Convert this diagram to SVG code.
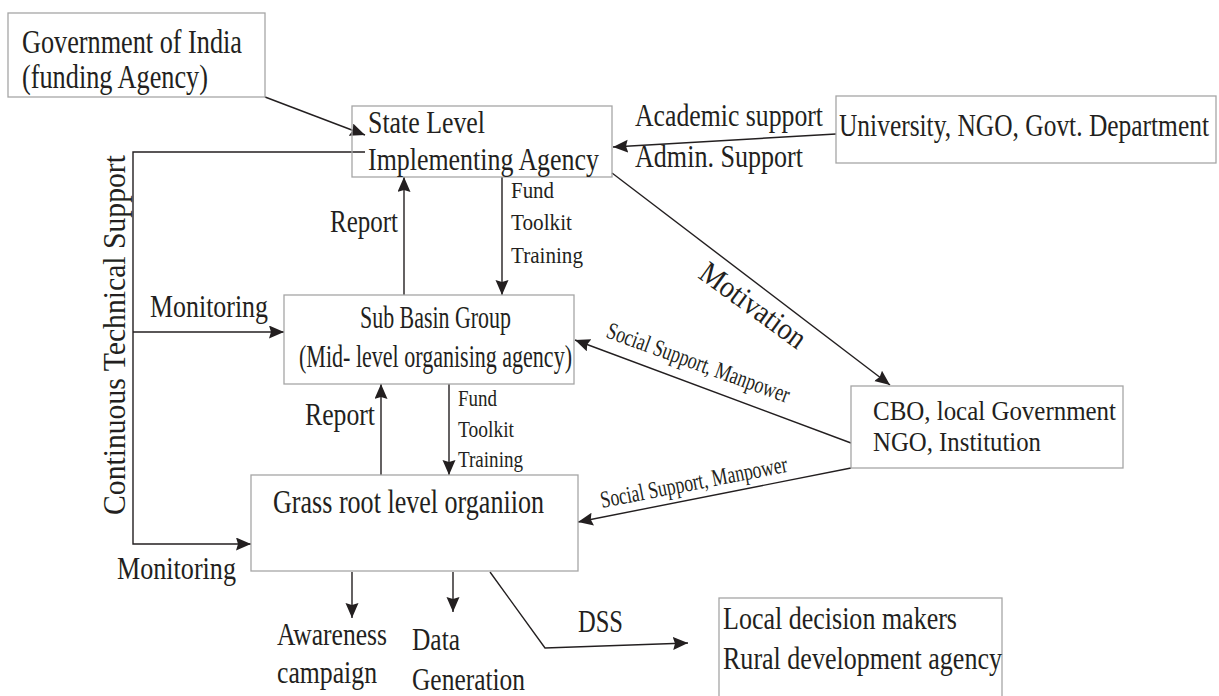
<svg xmlns="http://www.w3.org/2000/svg" width="1219" height="696" viewBox="0 0 1219 696">
<defs>
<style>
.box{fill:#fff;stroke:#a6a6a6;stroke-width:1.3}
.ln{fill:none;stroke:#231f20;stroke-width:1.4}
text{font-family:"Liberation Serif","Times New Roman",serif;fill:#231f20}
.t30{font-size:34px}
.t29{font-size:31px}
.t28{font-size:31px}
.t25{font-size:28px}
.t22{font-size:24px}
.t21{font-size:23px}
.t27{font-size:31px}
</style>
<marker id="ah" markerUnits="userSpaceOnUse" markerWidth="16" markerHeight="14" refX="15" refY="6.5" orient="auto">
<path d="M0,0 L15,6.5 L0,13 L2,6.5 z" fill="#231f20"/>
</marker>
</defs>
<rect width="1219" height="696" fill="#fff"/>

<g id="connectors">
<line class="ln" x1="265" y1="97" x2="365" y2="135" marker-end="url(#ah)"/>
<line class="ln" x1="836" y1="134" x2="613" y2="147" marker-end="url(#ah)"/>
<path class="ln" d="M365,152 H133 V544 H251" marker-end="url(#ah)"/>
<line class="ln" x1="133" y1="332" x2="284" y2="332" marker-end="url(#ah)"/>
<line class="ln" x1="404" y1="295" x2="404" y2="177" marker-end="url(#ah)"/>
<line class="ln" x1="502" y1="177" x2="502" y2="295" marker-end="url(#ah)"/>
<line class="ln" x1="381" y1="475" x2="381" y2="384" marker-end="url(#ah)"/>
<line class="ln" x1="449" y1="384" x2="449" y2="475" marker-end="url(#ah)"/>
<line class="ln" x1="612" y1="173" x2="890" y2="385" marker-end="url(#ah)"/>
<line class="ln" x1="851" y1="443" x2="575" y2="340" marker-end="url(#ah)"/>
<line class="ln" x1="851" y1="468" x2="578" y2="522" marker-end="url(#ah)"/>
<line class="ln" x1="352" y1="572" x2="352" y2="618" marker-end="url(#ah)"/>
<line class="ln" x1="453" y1="572" x2="453" y2="612" marker-end="url(#ah)"/>
<path class="ln" d="M490,572 L545,648 L688,643" marker-end="url(#ah)"/>
<text class="t29" transform="translate(125,515) rotate(-90)" x="0" y="0" textLength="360" lengthAdjust="spacingAndGlyphs">Continuous Technical Support</text>
<text class="t29" x="635" y="126" textLength="188" lengthAdjust="spacingAndGlyphs">Academic support</text>
<text class="t29" x="635" y="167" textLength="168" lengthAdjust="spacingAndGlyphs">Admin. Support</text>
<text class="t29" x="150" y="317" textLength="118" lengthAdjust="spacingAndGlyphs">Monitoring</text>
<text class="t29" x="117" y="579" textLength="119" lengthAdjust="spacingAndGlyphs">Monitoring</text>
<text class="t28" x="330" y="232" textLength="68" lengthAdjust="spacingAndGlyphs">Report</text>
<text class="t28" x="305" y="425" textLength="70" lengthAdjust="spacingAndGlyphs">Report</text>
<text class="t22" x="511" y="198" textLength="43" lengthAdjust="spacingAndGlyphs">Fund</text>
<text class="t22" x="511" y="230" textLength="61" lengthAdjust="spacingAndGlyphs">Toolkit</text>
<text class="t22" x="511" y="263" textLength="72" lengthAdjust="spacingAndGlyphs">Training</text>
<text class="t21" x="458" y="406" textLength="39" lengthAdjust="spacingAndGlyphs">Fund</text>
<text class="t21" x="458" y="437" textLength="56" lengthAdjust="spacingAndGlyphs">Toolkit</text>
<text class="t21" x="458" y="467" textLength="65" lengthAdjust="spacingAndGlyphs">Training</text>
<text class="t27" transform="translate(697,277) rotate(36)" x="0" y="0" textLength="124" lengthAdjust="spacingAndGlyphs">Motivation</text>
<text class="t22" transform="translate(605,337) rotate(20)" x="0" y="0" textLength="193" lengthAdjust="spacingAndGlyphs">Social Support, Manpower</text>
<text class="t22" transform="translate(602,508) rotate(-11)" x="0" y="0" textLength="190" lengthAdjust="spacingAndGlyphs">Social Support, Manpower</text>
<text class="t28" x="277" y="645" textLength="110" lengthAdjust="spacingAndGlyphs">Awareness</text>
<text class="t28" x="277" y="683" textLength="100" lengthAdjust="spacingAndGlyphs">campaign</text>
<text class="t28" x="412" y="650" textLength="48" lengthAdjust="spacingAndGlyphs">Data</text>
<text class="t28" x="412" y="690" textLength="113" lengthAdjust="spacingAndGlyphs">Generation</text>
<text class="t28" x="578" y="632" textLength="45" lengthAdjust="spacingAndGlyphs">DSS</text>
</g>

<g id="gov">
<rect class="box" x="8" y="13" width="257" height="84"/>
<text class="t30" x="22" y="53" textLength="220" lengthAdjust="spacingAndGlyphs">Government of India</text>
<text class="t30" x="22" y="88" textLength="186" lengthAdjust="spacingAndGlyphs">(funding Agency)</text>
</g>

<g id="state">
<rect class="box" x="352" y="106" width="260" height="71" fill-opacity="0"/>
<text class="t29" x="368" y="133" textLength="117" lengthAdjust="spacingAndGlyphs">State Level</text>
<text class="t29" x="368" y="170" textLength="231" lengthAdjust="spacingAndGlyphs">Implementing Agency</text>
</g>

<g id="university">
<rect class="box" x="836" y="96" width="380" height="67"/>
<text class="t29" x="839" y="136" textLength="370" lengthAdjust="spacingAndGlyphs">University, NGO, Govt. Department</text>
</g>

<g id="subbasin">
<rect class="box" x="284" y="295" width="290" height="89"/>
<text class="t28" x="360" y="328" textLength="151" lengthAdjust="spacingAndGlyphs">Sub Basin Group</text>
<text class="t28" x="299" y="367" textLength="273" lengthAdjust="spacingAndGlyphs">(Mid- level organising agency)</text>
</g>

<g id="cbo">
<rect class="box" x="851" y="386" width="272" height="82"/>
<text class="t25" x="873" y="420" textLength="243" lengthAdjust="spacingAndGlyphs">CBO, local Government</text>
<text class="t25" x="873" y="451" textLength="168" lengthAdjust="spacingAndGlyphs">NGO, Institution</text>
</g>

<g id="grassroot">
<rect class="box" x="251" y="475" width="327" height="96"/>
<text class="t30" x="273" y="513" textLength="271" lengthAdjust="spacingAndGlyphs">Grass root level organiion</text>
</g>

<g id="local">
<rect class="box" x="719" y="598" width="283" height="110"/>
<text class="t28" x="723" y="629" textLength="234" lengthAdjust="spacingAndGlyphs">Local decision makers</text>
<text class="t28" x="723" y="669" textLength="279" lengthAdjust="spacingAndGlyphs">Rural development agency</text>
</g>
</svg>
